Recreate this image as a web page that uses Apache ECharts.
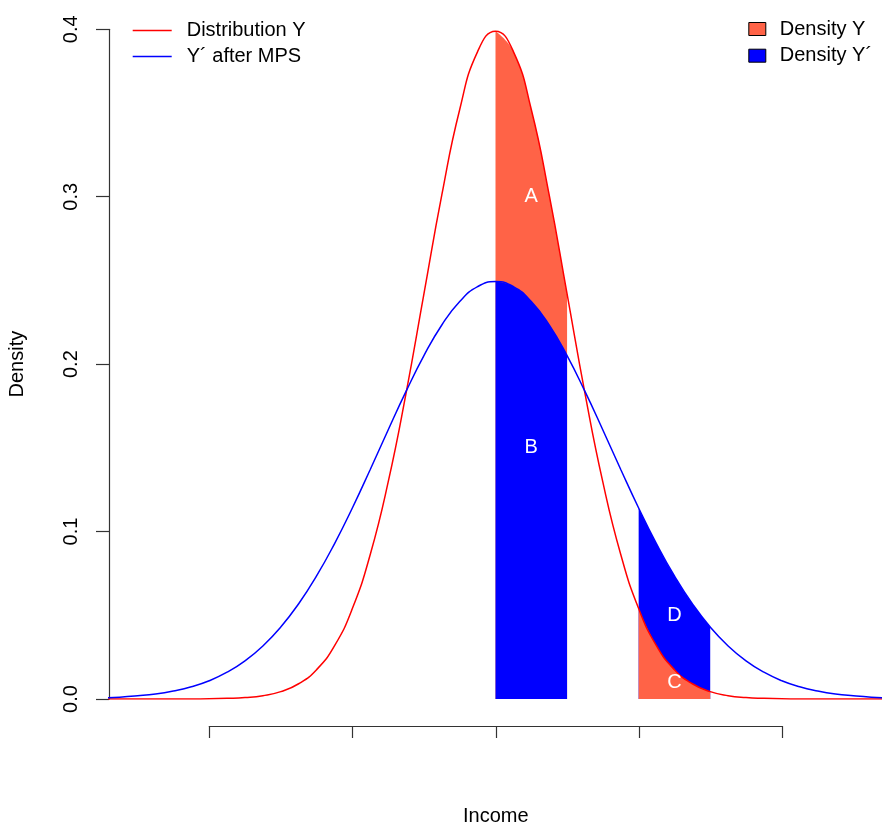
<!DOCTYPE html>
<html>
<head>
<meta charset="utf-8">
<script src="https://cdn.jsdelivr.net/npm/echarts@6/dist/echarts.min.js"></script>
<style>
  html, body { margin: 0; padding: 0; background: #fff; }
  #main { width: 882px; height: 826px; }
</style>
</head>
<body>
<div id="main"></div>
<script>
// income grid and the two densities
var incomeX = [-5.5, -5.25, -5, -4.75, -4.5, -4.25, -4, -3.75, -3.5, -3.25, -3, -2.75, -2.5, -2.25, -2, -1.75, -1.5, -1.25, -1, -0.75, -0.5, -0.25,
  0, 0.25, 0.5, 0.75, 1, 1.25, 1.5, 1.75, 2, 2.25, 2.5, 2.75, 3, 3.25, 3.5, 3.75, 4, 4.25, 4.5, 4.75, 5, 5.25, 5.5];
var densityY = [0, 0, 0, 0, 0, 0, 0.0001, 0.0004, 0.0009, 0.0020, 0.0044, 0.0091, 0.0175, 0.0317, 0.0540, 0.0863, 0.1295, 0.1826, 0.2420, 0.3011, 0.3521, 0.3867,
  0.3989, 0.3867, 0.3521, 0.3011, 0.2420, 0.1826, 0.1295, 0.0863, 0.0540, 0.0317, 0.0175, 0.0091, 0.0044, 0.0020, 0.0009, 0.0004, 0.0001, 0, 0, 0, 0, 0, 0];
var densityYmps = [0.0007, 0.0011, 0.0019, 0.0030, 0.0048, 0.0073, 0.0109, 0.0160, 0.0228, 0.0317, 0.0430, 0.0569, 0.0735, 0.0927, 0.1141, 0.1371, 0.1607, 0.1837, 0.2051, 0.2234, 0.2374, 0.2463,
  0.2493, 0.2463, 0.2374, 0.2234, 0.2051, 0.1837, 0.1607, 0.1371, 0.1141, 0.0927, 0.0735, 0.0569, 0.0430, 0.0317, 0.0228, 0.0160, 0.0109, 0.0073, 0.0048, 0.0030, 0.0019, 0.0011, 0.0007];
// shaded income bands
var bandAB = [0, 1];
var bandCD = [2, 3];
// area letters
var letterX = [0.5, 0.5, 2.5, 2.5];
var letterY = [0.3, 0.15, 0.01, 0.05];
var letterText = ['A', 'B', 'C', 'D'];

var FONT = '"Liberation Sans", Arial, Helvetica, sans-serif';

function pairs(ys, lo, hi) {
  var out = [];
  for (var i = 0; i < incomeX.length; i++) {
    if (incomeX[i] >= lo && incomeX[i] <= hi) out.push([incomeX[i], ys[i]]);
  }
  return out;
}

function band(name, ys, range, color) {
  return {
    name: name, type: 'line', xAxisIndex: 0, yAxisIndex: 0,
    data: pairs(ys, range[0], range[1]),
    smooth: true, showSymbol: false, silent: true,
    itemStyle: {color: color},
    lineStyle: {width: 0, color: color},
    areaStyle: {color: color, opacity: 1}
  };
}

var myChart = echarts.init(document.getElementById('main'));

var option = {
  animation: false,
  backgroundColor: '#fff',
  textStyle: {fontFamily: FONT},
  grid: [
    {left: 109, right: 0, top: 29.3, bottom: 127, outerBoundsMode: 'none', containLabel: false},
    {left: 209.3, right: 99.8, top: 29.3, bottom: 127, outerBoundsMode: 'none', containLabel: false}
  ],
  legend: [
    {
      data: ['Distribution Y', 'Y´ after MPS'],
      orient: 'vertical', left: 127.7, top: 15.5,
      icon: 'rect', itemWidth: 39, itemHeight: 1.5, itemGap: 6,
      textStyle: {fontFamily: FONT, fontSize: 20, color: '#000', lineHeight: 20, padding: [0, 0, 0, 10]}
    },
    {
      data: ['Density Y', 'Density Y´'],
      orient: 'vertical', left: 743.3, top: 14,
      icon: 'rect', itemWidth: 17, itemHeight: 13, itemGap: 6.7,
      itemStyle: {borderColor: '#000', borderWidth: 1},
      textStyle: {fontFamily: FONT, fontSize: 20, color: '#000', lineHeight: 20, padding: [0, 0, 0, 9]}
    }
  ],
  xAxis: [
    {type: 'value', gridIndex: 0, min: -5.4, max: 5.4, show: false},
    {
      type: 'value', gridIndex: 1, min: -4, max: 4, interval: 2,
      position: 'bottom', offset: 27,
      name: 'Income', nameLocation: 'middle', nameGap: 80,
      nameTextStyle: {fontFamily: FONT, fontSize: 20, color: '#000'},
      axisLine: {show: true, onZero: false, lineStyle: {color: '#333', width: 1.2}},
      axisTick: {show: true, length: 12, lineStyle: {color: '#333', width: 1.2}},
      axisLabel: {show: false},
      splitLine: {show: false}
    }
  ],
  yAxis: [
    {
      type: 'value', gridIndex: 0, min: 0, max: 0.4, interval: 0.1,
      name: 'Density', nameLocation: 'middle', nameGap: 82,
      nameTextStyle: {fontFamily: FONT, fontSize: 20, color: '#000'},
      axisLine: {show: true, onZero: false, lineStyle: {color: '#333', width: 1.2}},
      axisTick: {show: true, length: 13, lineStyle: {color: '#333', width: 1.2}},
      axisLabel: {
        rotate: 90, margin: 28, fontSize: 20, color: '#000', fontFamily: FONT,
        formatter: function (v) { return v.toFixed(1); }
      },
      splitLine: {show: false}
    },
    {type: 'value', gridIndex: 1, min: 0, max: 0.4, show: false}
  ],
  series: [
    band('Density Y', densityY, bandAB, '#FF6347'),
    band('Density Y´', densityYmps, bandAB, '#0000FF'),
    band('Density Y´', densityYmps, bandCD, '#0000FF'),
    band('Density Y', densityY, bandCD, '#FF6347'),
    {
      name: 'Distribution Y', type: 'line', xAxisIndex: 0, yAxisIndex: 0,
      data: pairs(densityY, -99, 99), smooth: true, showSymbol: false,
      itemStyle: {color: '#FF0000'}, lineStyle: {color: '#FF0000', width: 1.5}
    },
    {
      name: 'Y´ after MPS', type: 'line', xAxisIndex: 0, yAxisIndex: 0,
      data: pairs(densityYmps, -99, 99), smooth: true, showSymbol: false,
      itemStyle: {color: '#0000FF'}, lineStyle: {color: '#0000FF', width: 1.5}
    },
    {
      type: 'scatter', xAxisIndex: 0, yAxisIndex: 0, symbolSize: 1, silent: true, z: 5,
      itemStyle: {color: 'rgba(0,0,0,0)'},
      data: letterX.map(function (x, i) { return [x, letterY[i], letterText[i]]; }),
      label: {
        show: true, position: 'inside', color: '#ffffff', opacity: 1, textBorderWidth: 0,
        fontSize: 20, fontFamily: FONT,
        formatter: function (p) { return p.value[2]; }
      }
    }
  ]
};

myChart.setOption(option);
</script>
</body>
</html>
